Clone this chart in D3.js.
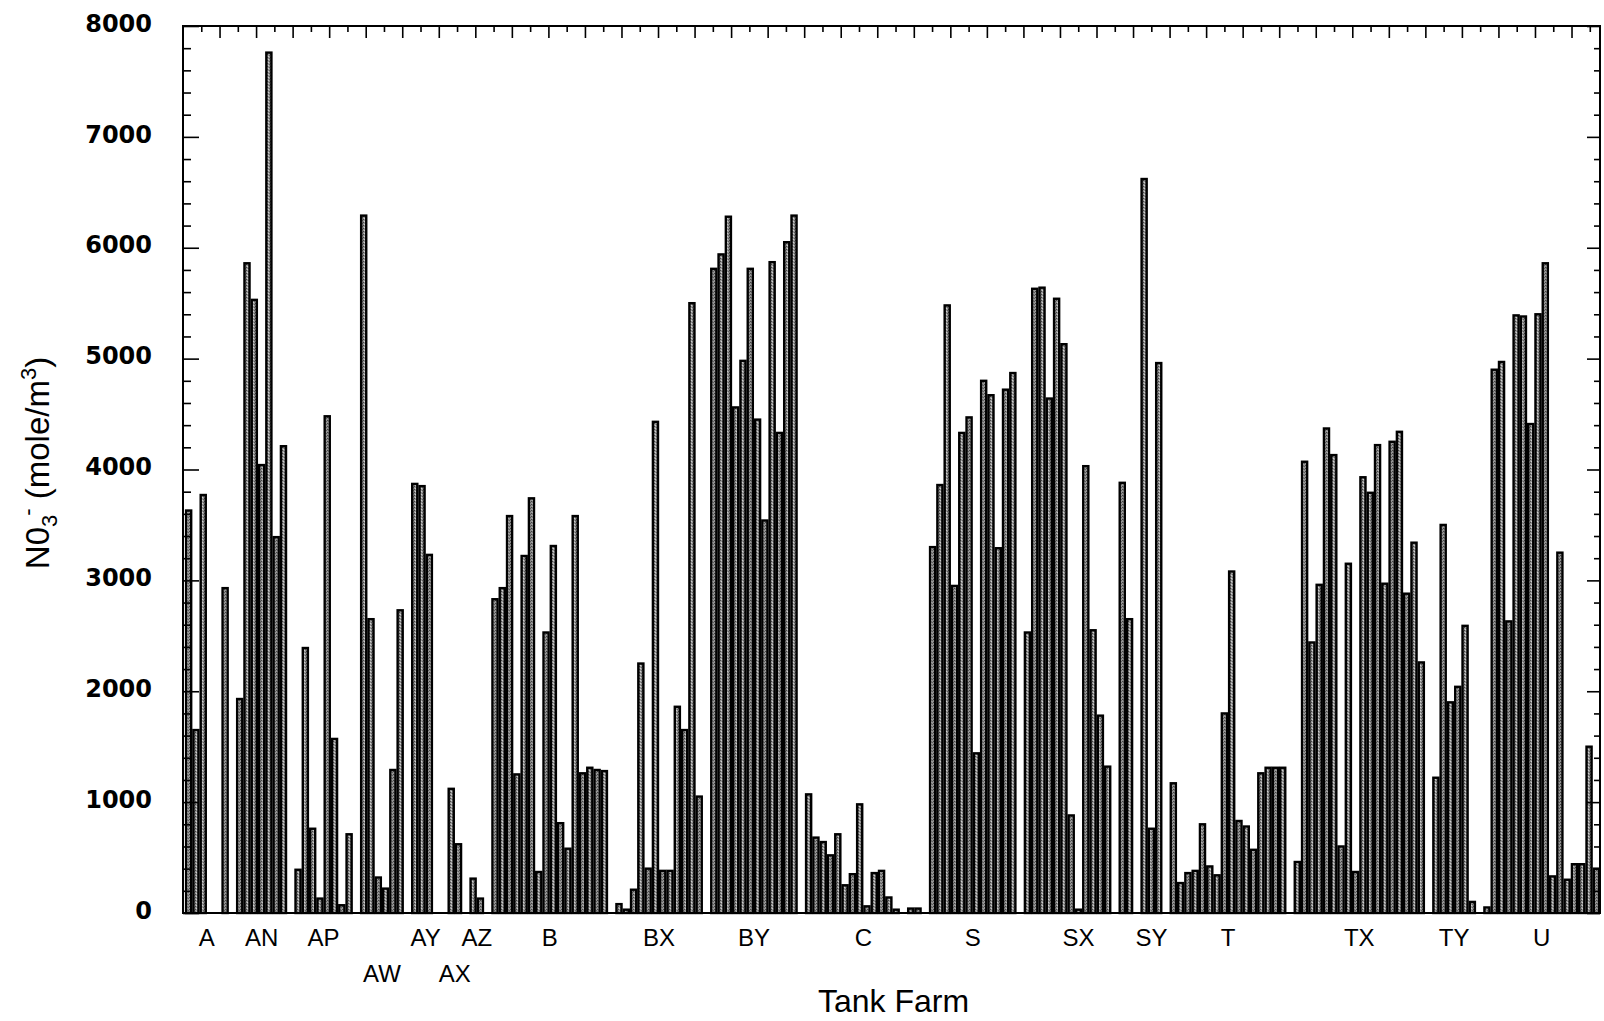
<!DOCTYPE html>
<html>
<head>
<meta charset="utf-8">
<script src="https://cdn.jsdelivr.net/npm/d3@7"></script>
<style>
  html, body { margin: 0; padding: 0; background: #fff; }
  svg { display: block; }
</style>
</head>
<body>
<svg id="chart" width="1604" height="1021"></svg>
<script>
// Nitrate (NO3-) concentration in each tank, grouped by tank farm.
const farms = ["A", "AN", "AP", "AW", "AY", "AX", "AZ", "B", "BX", "BY", "C", "S", "SX", "SY", "T", "TX", "TY", "U"];

const farmA  = [3630, 1650, 3770, 0, 0, 2930];
const farmAN = [1930, 5860, 5530, 4040, 7760, 3390, 4210];
const farmAP = [390, 2390, 760, 130, 4480, 1570, 70, 710];
const farmAW = [6290, 2650, 320, 220, 1290, 2730];
const farmAY = [3870, 3850, 3230, 0];
const farmAX = [1120, 620];
const farmAZ = [310, 130];
const farmB  = [2830, 2930, 3580, 1250, 3220, 3740, 370, 2530, 3310, 810, 580, 3580, 1260, 1310, 1290, 1280];
const farmBX = [80, 30, 210, 2250, 400, 4430, 380, 380, 1860, 1650, 5500, 1050];
const farmBY = [5810, 5940, 6280, 4560, 4980, 5810, 4450, 3540, 5870, 4330, 6050, 6290];
const farmC  = [1070, 680, 640, 520, 710, 250, 350, 980, 60, 360, 380, 140, 30, 0, 40, 40];
const farmS  = [3300, 3860, 5480, 2950, 4330, 4470, 1440, 4800, 4670, 3290, 4720, 4870];
const farmSX = [2530, 5630, 5640, 4640, 5540, 5130, 880, 30, 4030, 2550, 1780, 1320, 0, 3880, 2650];
const farmSY = [6620, 760, 4960];
const farmT  = [1170, 270, 360, 380, 800, 420, 340, 1800, 3080, 830, 780, 570, 1260, 1310, 1310, 1310];
const farmTX = [460, 4070, 2440, 2960, 4370, 4130, 600, 3150, 370, 3930, 3790, 4220, 2970, 4250, 4340, 2880, 3340, 2260];
const farmTY = [1220, 3500, 1900, 2040, 2590, 100];
const farmU  = [50, 4900, 4970, 2630, 5390, 5380, 4410, 5400, 5860, 330, 3250, 300, 440, 440, 1500, 400];

const farmValues = [farmA, farmAN, farmAP, farmAW, farmAY, farmAX, farmAZ, farmB, farmBX, farmBY,
                    farmC, farmS, farmSX, farmSY, farmT, farmTX, farmTY, farmU];

const yTicks = [0, 1000, 2000, 3000, 4000, 5000, 6000, 7000, 8000];
// farm names set on the second label line so neighbours do not collide
const lowerRowLabels = ["AW", "AX"];

const svg = d3.select("#chart");
const plot = { left: 183, right: 1600, top: 26, bottom: 913 };

// speckled grey fill used inside every bar
const defs = svg.append("defs");
const pat = defs.append("pattern")
  .attr("id", "stipple").attr("width", 3).attr("height", 3)
  .attr("patternUnits", "userSpaceOnUse");
pat.append("rect").attr("width", 3).attr("height", 3).attr("fill", "#959595");
pat.append("rect").attr("x", 0).attr("y", 0).attr("width", 1).attr("height", 1).attr("fill", "#454545");
pat.append("rect").attr("x", 2).attr("y", 1).attr("width", 1).attr("height", 1).attr("fill", "#5e5e5e");
pat.append("rect").attr("x", 1).attr("y", 2).attr("width", 1).attr("height", 1).attr("fill", "#d0d0d0");

// one slot per tank, with an empty slot between consecutive farms
const slots = [];
farms.forEach((farm, fi) => {
  farmValues[fi].forEach((v, i) => slots.push({ key: farm + "-" + (i + 1), farm: farm, value: v }));
  if (fi < farms.length - 1) slots.push({ key: "gap-" + farm, farm: null, value: null });
});

const x = d3.scaleBand()
  .domain(slots.map(d => d.key))
  .range([plot.left + 2, plot.right])
  .paddingInner(0).paddingOuter(0);

const y = d3.scaleLinear().domain([0, 8000]).range([plot.bottom, plot.top]);

// bars
svg.append("g")
  .selectAll("rect")
  .data(slots.filter(d => d.farm !== null && d.value > 0))
  .join("rect")
  .attr("x", d => x(d.key) + 1.1)
  .attr("width", x.bandwidth() - 2.2)
  .attr("y", d => y(d.value))
  .attr("height", d => y(0) - y(d.value))
  .attr("fill", "url(#stipple)")
  .attr("stroke", "#000")
  .attr("stroke-width", 2.4);

// frame
svg.append("rect")
  .attr("x", plot.left).attr("y", plot.top)
  .attr("width", plot.right - plot.left).attr("height", plot.bottom - plot.top)
  .attr("fill", "none").attr("stroke", "#000").attr("stroke-width", 2);

function styleTicks(g) {
  g.select(".domain").remove();
  g.selectAll("line").attr("stroke", "#000").attr("stroke-width", 1.6);
  g.selectAll("text").remove();
}

// left axis: inward ticks, long at each 1000, short every 200
const minorY = d3.range(0, 8001, 200).filter(v => v % 1000 !== 0);
svg.append("g").attr("transform", `translate(${plot.left},0)`)
  .call(d3.axisRight(y).tickValues(yTicks).tickSize(16)).call(styleTicks);
svg.append("g").attr("transform", `translate(${plot.left},0)`)
  .call(d3.axisRight(y).tickValues(minorY).tickSize(8)).call(styleTicks);

// right axis
svg.append("g").attr("transform", `translate(${plot.right},0)`)
  .call(d3.axisLeft(y).tickValues(yTicks).tickSize(13)).call(styleTicks);
svg.append("g").attr("transform", `translate(${plot.right},0)`)
  .call(d3.axisLeft(y).tickValues(minorY).tickSize(6)).call(styleTicks);

// top axis ticks, alternating long and short
const xTick = d3.scaleLinear().domain([0, 77]).range([plot.left, plot.left + 77 * 18.27]);
const topTicks = d3.range(1, 78);
svg.append("g").attr("transform", `translate(0,${plot.top})`)
  .call(d3.axisBottom(xTick).tickValues(topTicks.filter(t => t % 2 === 0)).tickSize(12)).call(styleTicks);
svg.append("g").attr("transform", `translate(0,${plot.top})`)
  .call(d3.axisBottom(xTick).tickValues(topTicks.filter(t => t % 2 === 1)).tickSize(6)).call(styleTicks);

// y tick labels
svg.append("g")
  .selectAll("text")
  .data(yTicks)
  .join("text")
  .attr("x", 152)
  .attr("y", d => y(d) - 3)
  .attr("dy", "0.36em")
  .attr("text-anchor", "end")
  .attr("font-family", "DejaVu Sans, sans-serif")
  .attr("font-weight", "bold")
  .attr("font-size", 24)
  .attr("fill", "#000")
  .text(d => d);

// farm labels under each group
svg.append("g")
  .selectAll("text")
  .data(farms)
  .join("text")
  .attr("x", (farm, fi) => {
    const n = farmValues[fi].length;
    const x0 = x(farm + "-1");
    const x1 = x(farm + "-" + n) + x.bandwidth();
    return (x0 + x1) / 2;
  })
  .attr("y", farm => lowerRowLabels.includes(farm) ? 982 : 946)
  .attr("text-anchor", "middle")
  .attr("font-family", "Liberation Sans, Arial, sans-serif")
  .attr("font-size", 24)
  .attr("fill", "#000")
  .text(d => d);

// x axis title
svg.append("text")
  .attr("x", (plot.left + plot.right) / 2 + 2)
  .attr("y", 1012)
  .attr("text-anchor", "middle")
  .attr("font-family", "Liberation Sans, Arial, sans-serif")
  .attr("font-size", 32)
  .attr("fill", "#000")
  .text("Tank Farm");

// y axis title: N0₃⁻ (mole/m³)
const yTitle = svg.append("text")
  .attr("transform", "translate(49,463) rotate(-90)")
  .attr("text-anchor", "middle")
  .attr("font-family", "Liberation Sans, Arial, sans-serif")
  .attr("font-size", 33)
  .attr("fill", "#000");
yTitle.append("tspan").text("N0");
yTitle.append("tspan").attr("font-size", 22).attr("dy", 8).text("3");
yTitle.append("tspan").attr("font-size", 22).attr("dy", -22).attr("dx", -1).text("-");
yTitle.append("tspan").attr("dy", 14).text(" (mole/m");
yTitle.append("tspan").attr("font-size", 22).attr("dy", -13).text("3");
yTitle.append("tspan").attr("dy", 13).text(")");
</script>
</body>
</html>
